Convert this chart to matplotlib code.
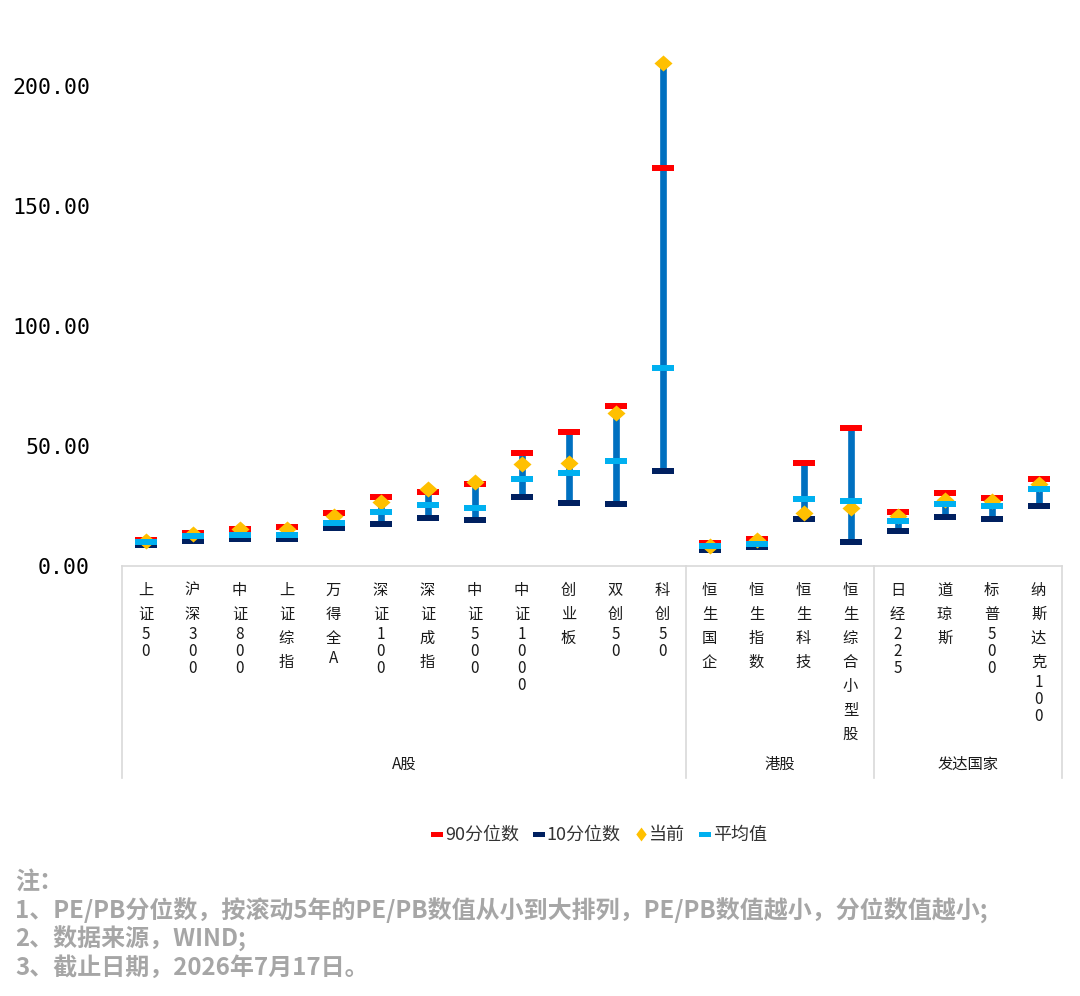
import matplotlib
matplotlib.use('Agg')
import matplotlib.pyplot as plt
from matplotlib.lines import Line2D

plt.rcParams['font.family'] = ['Noto Sans CJK SC', 'DejaVu Sans']

# values
categories = ['上证50', '沪深300', '中证800', '上证综指', '万得全A', '深证100', '深证成指',
              '中证500', '中证1000', '创业板', '双创50', '科创50',
              '恒生国企', '恒生指数', '恒生科技', '恒生综合小型股',
              '日经225', '道琼斯', '标普500', '纳斯达克100']
p90 = [11.0, 13.6, 15.4, 16.2, 21.9, 28.7, 31.0, 34.0, 47.1, 55.8, 66.7, 165.8,
       9.6, 11.4, 42.8, 57.6, 22.4, 30.6, 28.5, 36.2]
p10 = [8.7, 10.4, 11.2, 11.2, 15.7, 17.4, 20.0, 19.2, 28.7, 26.1, 25.7, 39.7,
       6.5, 7.8, 19.7, 10.0, 14.4, 20.4, 19.4, 24.9]
current = [10.4, 13.2, 15.3, 15.4, 21.0, 26.8, 32.2, 34.9, 42.6, 42.8, 63.6, 209.6,
           8.5, 10.8, 21.9, 24.3, 21.0, 27.4, 27.1, 34.0]
mean = [9.9, 12.4, 13.0, 13.0, 17.9, 22.6, 25.3, 24.3, 36.2, 38.7, 43.6, 82.5,
        8.5, 9.2, 27.9, 27.1, 18.9, 25.8, 24.9, 32.2]
groups = ['A股', '港股', '发达国家']
group_sizes = [12, 4, 4]
yticks = [0, 50, 100, 150, 200]
notes = ['注：',
         '1、PE/PB分位数，按滚动5年的PE/PB数值从小到大排列，PE/PB数值越小，分位数值越小;',
         '2、数据来源，WIND;',
         '3、截止日期，2026年7月17日。']

RED = '#FF0000'
NAVY = '#002060'
GOLD = '#FFC000'
CYAN = '#00B0F0'
BLUE = '#0070C0'
GRID = '#D9D9D9'

W, H = 1080, 996
fig = plt.figure(figsize=(W / 100, H / 100), dpi=100)
ax_left, ax_right, ax_bottom, ax_top = 122, 1062, 566, 38
ax = fig.add_axes([ax_left / W, 1 - ax_bottom / H, (ax_right - ax_left) / W,
                   (ax_bottom - ax_top) / H])
ax_h = ax_bottom - ax_top

x = list(range(len(categories)))
lo = [min(a, b, c, d) for a, b, c, d in zip(p90, p10, current, mean)]
hi = [max(a, b, c, d) for a, b, c, d in zip(p90, p10, current, mean)]

cap = [(-11, -3), (11, -3), (11, 3), (-11, 3), (-11, -3)]
diamond = [(0, 8), (9, 0), (0, -8), (-9, 0), (0, 8)]

ax.vlines(x, lo, hi, color=BLUE, lw=4.8, zorder=1)
ax.plot(x, p90, ls='none', marker=cap, ms=15.8, mfc=RED, mew=0, zorder=2)
ax.plot(x, p10, ls='none', marker=cap, ms=15.8, mfc=NAVY, mew=0, zorder=2)
ax.plot(x, current, ls='none', marker=diamond, ms=13, mfc=GOLD, mew=0, zorder=3)
ax.plot(x, mean, ls='none', marker=cap, ms=15.8, mfc=CYAN, mew=0, zorder=4)

ax.set_xlim(-0.5, len(categories) - 0.5)
ax.set_ylim(0, 220)
ax.set_yticks(yticks)
ax.set_yticklabels(['%.2f' % v for v in yticks], family='DejaVu Sans Mono',
                   fontsize=15.5, color='#000000')
ax.tick_params(axis='y', length=0, pad=23)
ax.set_xticks([])
for s in ['top', 'right', 'left']:
    ax.spines[s].set_visible(False)
ax.spines['bottom'].set_color(GRID)
ax.spines['bottom'].set_linewidth(1.2)

tr = ax.get_xaxis_transform()

def ax_y(py):
    return -(py - ax_bottom) / ax_h

# category labels, one character per line
for i, name in enumerate(categories):
    top = 578
    for ch in name:
        h = 24 if ord(ch) > 0x2E80 else 17
        ax.text(i, ax_y(top + h / 2), ch, transform=tr, ha='center', va='center',
                fontsize=11, color='#1a1a1a', clip_on=False)
        top += h

# group separators and group labels
edges = [-0.5]
for n in group_sizes:
    edges.append(edges[-1] + n)
for e in edges:
    ax.plot([e, e], [0, ax_y(778)], transform=tr, color=GRID, lw=1.2, clip_on=False)
for g, a, b in zip(groups, edges[:-1], edges[1:]):
    ax.text((a + b) / 2, ax_y(764), g, transform=tr, ha='center', va='center',
            fontsize=11, color='#1a1a1a', clip_on=False)

# legend
leg_cap = [(-5, -2), (5, -2), (5, 2), (-5, 2), (-5, -2)]
leg_dia = [(0, 6), (4.5, 0), (0, -6), (-4.5, 0), (0, 6)]
handles = [
    Line2D([], [], ls='none', marker=leg_cap, ms=9, mfc=RED, mew=0),
    Line2D([], [], ls='none', marker=leg_cap, ms=9, mfc=NAVY, mew=0),
    Line2D([], [], ls='none', marker=leg_dia, ms=10, mfc=GOLD, mew=0),
    Line2D([], [], ls='none', marker=leg_cap, ms=9, mfc=CYAN, mew=0),
]
fig.legend(handles, ['90分位数', '10分位数', '当前', '平均值'], loc='center',
           bbox_to_anchor=(599 / W, 1 - 835 / H), ncol=4, frameon=False,
           fontsize=13, handlelength=0.6, handletextpad=0.15, columnspacing=0.8,
           labelcolor='#333333')

# notes
for k, line in enumerate(notes):
    fig.text(15 / W, 1 - (882 + 28.7 * k) / H, line, ha='left', va='center',
             fontsize=17.3, fontweight='bold', color='#A6A6A6')

fig.savefig('out.png', dpi=100)
